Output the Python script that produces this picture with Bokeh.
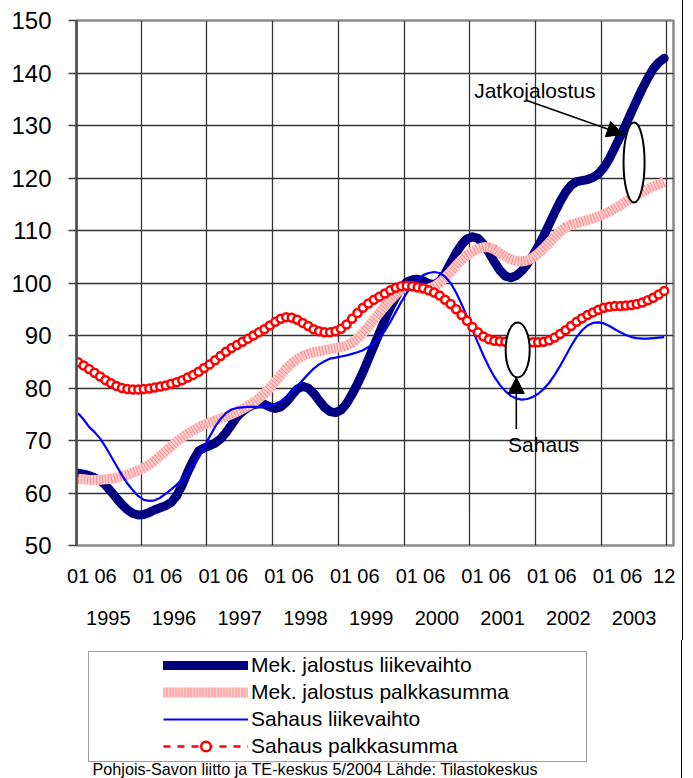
from bokeh.plotting import figure
from bokeh.layouts import column
from bokeh.models import (FixedTicker, LinearAxis, Legend, LegendItem, Arrow, NormalHead,
                          Label, Range1d, Grid, ColumnDataSource, InlineStyleSheet)
from bokeh.embed import file_html
from bokeh.resources import INLINE

# ---- data: monthly index values, 1995-01 ... 2003-12 ----
years = ["1995", "1996", "1997", "1998", "1999", "2000", "2001", "2002", "2003"]
month_labels = ["01", "06"]
last_label = "12"

mek_liikevaihto = [
    63.8, 63.6, 63.3, 62.9, 62.4, 61.5, 60.3, 59.0, 57.8, 56.8, 56.1, 55.8,
    55.9, 56.3, 56.8, 57.2, 57.6, 58.2, 59.5, 61.5, 64.0, 66.2, 68.0, 68.6,
    69.0, 69.5, 70.3, 71.5, 73.0, 74.5, 75.5, 76.3, 76.8, 77.0, 76.9, 76.4,
    76.1, 76.4, 77.3, 78.6, 79.8, 80.3, 80.0, 79.0, 77.6, 76.3, 75.5, 75.3,
    75.8, 77.0, 78.8, 80.8, 83.0, 85.5, 88.0, 90.5, 93.0, 95.3, 97.3, 99.0,
    100.2, 100.6, 100.7, 100.4, 99.9, 99.7, 100.3, 101.8, 103.8, 105.7, 107.3, 108.4,
    108.8, 108.5, 107.4, 105.8, 104.0, 102.4, 101.3, 101.0, 101.4, 102.3, 103.6, 105.2,
    107.0, 109.0, 111.2, 113.4, 115.5, 117.3, 118.6, 119.3, 119.5, 119.7, 120.1, 120.8,
    122.0, 123.7, 125.8, 128.0, 130.2, 132.5, 134.8, 137.0, 139.0, 140.8, 142.0, 142.8]

mek_palkkasumma = [
    62.7, 62.6, 62.5, 62.5, 62.5, 62.6, 62.7, 62.9, 63.2, 63.5, 63.9, 64.3,
    64.8, 65.4, 66.2, 67.1, 68.0, 68.9, 69.8, 70.6, 71.3, 71.9, 72.5, 73.0,
    73.4, 73.8, 74.2, 74.6, 75.0, 75.5, 76.0, 76.6, 77.2, 78.0, 78.9, 80.0,
    81.2, 82.5, 83.7, 84.7, 85.5, 86.1, 86.5, 86.8, 87.0, 87.2, 87.4, 87.6,
    87.8, 88.1, 88.6, 89.4, 90.5, 91.7, 93.0, 94.3, 95.6, 96.8, 97.9, 98.8,
    99.3, 99.3, 99.0, 98.8, 98.9, 99.3, 100.0, 101.0, 102.1, 103.3, 104.4, 105.3,
    106.0, 106.5, 106.8, 106.8, 106.4, 105.7, 105.0, 104.5, 104.2, 104.1, 104.3, 104.8,
    105.6, 106.6, 107.7, 108.8, 109.8, 110.6, 111.1, 111.4, 111.7, 112.0, 112.3, 112.7,
    113.1, 113.6, 114.2, 114.8, 115.5, 116.1, 116.7, 117.3, 117.9, 118.4, 118.8, 119.2]

sahaus_liikevaihto = [
    75.2, 74.0, 72.6, 71.6, 70.4, 68.8, 67.0, 65.2, 63.4, 61.8, 60.5, 59.4,
    58.7, 58.5, 58.6, 59.1, 59.9, 60.7, 61.6, 62.6, 63.8, 65.2, 66.9, 68.8,
    70.7, 72.6, 74.1, 75.2, 75.9, 76.2, 76.3, 76.4, 76.4, 76.4, 76.5, 76.7,
    77.0, 77.5, 78.3, 79.3, 80.4, 81.5, 82.6, 83.7, 84.5, 85.1, 85.6, 85.8,
    86.0, 86.2, 86.5, 86.8, 87.2, 87.8, 88.6, 89.5, 90.9, 92.6, 94.5, 96.4,
    98.1, 99.6, 100.7, 101.5, 101.9, 102.1, 101.9, 101.2, 100.0, 98.2, 96.0, 93.6,
    91.1, 88.6, 86.2, 84.0, 82.1, 80.6, 79.4, 78.5, 78.0, 77.8, 77.9, 78.3,
    78.9, 79.8, 81.0, 82.5, 84.2, 86.1, 88.0, 89.7, 91.0, 91.9, 92.4, 92.5,
    92.3, 91.8, 91.2, 90.6, 90.1, 89.7, 89.5, 89.4, 89.4, 89.5, 89.6, 89.7]

sahaus_palkkasumma = [
    84.9, 84.3, 83.6, 82.9, 82.2, 81.5, 80.9, 80.4, 80.0, 79.8, 79.7, 79.7,
    79.8, 79.9, 80.1, 80.3, 80.5, 80.8, 81.1, 81.5, 82.0, 82.5, 83.1, 83.8,
    84.5, 85.3, 86.1, 86.9, 87.6, 88.2, 88.8, 89.4, 90.0, 90.6, 91.2, 91.9,
    92.6, 93.2, 93.5, 93.4, 93.0, 92.4, 91.8, 91.2, 90.8, 90.6, 90.6, 90.8,
    91.3, 92.1, 93.2, 94.3, 95.3, 96.1, 96.8, 97.4, 98.0, 98.6, 99.1, 99.4,
    99.5, 99.4, 99.2, 99.0, 98.6, 98.2, 97.6, 96.8, 96.0, 95.0, 93.9, 92.8,
    91.6, 90.6, 89.8, 89.3, 89.0, 88.9, 88.8, 88.8, 88.7, 88.7, 88.7, 88.7,
    88.7, 88.8, 89.1, 89.6, 90.3, 91.0, 91.8, 92.6, 93.3, 93.9, 94.4, 94.9,
    95.3, 95.5, 95.6, 95.6, 95.7, 95.8, 96.0, 96.3, 96.7, 97.2, 97.8, 98.5]

series_names = ["Mek. jalostus liikevaihto", "Mek. jalostus palkkasumma",
                "Sahaus liikevaihto", "Sahaus palkkasumma"]
source_text = "Pohjois-Savon liitto ja TE-keskus 5/2004  Lähde: Tilastokeskus"

n_months = len(mek_liikevaihto)
months = list(range(n_months))
src = ColumnDataSource(dict(m=months, a=mek_liikevaihto, b=mek_palkkasumma,
                            c=sahaus_liikevaihto, d=sahaus_palkkasumma))

FONT = "Liberation Sans"
EDGE = InlineStyleSheet(css=":host { border-right: 1.5px solid #000; }")

STY_A = dict(line_color="#000080", line_width=9, line_cap="round", line_join="round")
STY_B1 = dict(line_color="#ffd0d0", line_width=10)
STY_B2 = dict(line_color="#ff3030", line_width=10, line_dash="1 2", line_alpha=0.45)
STY_C = dict(line_color="#0000ff", line_width=2.2)
STY_D1 = dict(line_color="#ff0000", line_width=2.5, line_dash="7 7")
STY_D2 = dict(size=8, marker="circle", line_color="#ff0000", line_width=2.5,
              fill_color="white")


def draw_series(fig):
    ra = fig.line("m", "a", source=src, **STY_A)
    rb1 = fig.line("m", "b", source=src, **STY_B1)
    rb2 = fig.line("m", "b", source=src, **STY_B2)
    rc = fig.line("m", "c", source=src, **STY_C)
    rd1 = fig.line("m", "d", source=src, **STY_D1)
    rd2 = fig.scatter("m", "d", source=src, **STY_D2)
    return ra, rb1, rb2, rc, rd1, rd2


# ================= main chart =================
p = figure(frame_width=596, frame_height=525,
           x_range=Range1d(-0.3, 108.7), y_range=Range1d(50, 150),
           x_axis_type=None, output_backend="svg", toolbar_location=None,
           min_border_left=76, min_border_top=20, min_border_right=10,
           min_border_bottom=95)
p.background_fill_color = "white"
p.border_fill_color = "white"
p.outline_line_color = "#8a8a8a"
p.outline_line_width = 2.5
p.stylesheets = [EDGE]

p.yaxis.ticker = FixedTicker(ticks=list(range(50, 151, 10)))
p.yaxis.major_label_text_font = FONT
p.yaxis.major_label_text_font_size = "24px"
p.yaxis.major_label_text_color = "black"
p.yaxis.major_tick_out = 8
p.yaxis.major_tick_in = 0
p.yaxis.major_tick_line_color = "#404040"
p.yaxis.major_tick_line_width = 1.3
p.yaxis.minor_tick_line_color = None
p.yaxis.axis_line_color = "#505050"
p.yaxis.axis_line_width = 2.5
p.yaxis.major_label_standoff = 17

p.ygrid.ticker = FixedTicker(ticks=list(range(60, 150, 10)))
p.ygrid.grid_line_color = "#333333"
p.ygrid.grid_line_width = 1.3

year_bounds = [12 * (k + 1) - 0.5 for k in range(len(years))]
p.add_layout(Grid(dimension=0, ticker=FixedTicker(ticks=year_bounds),
                  grid_line_color="#333333", grid_line_width=1.3))

tick_pos, tick_txt = [], {}
for k in range(len(years)):
    for lab in month_labels:
        pos = 12 * k + int(lab) - 1
        tick_pos.append(pos)
        tick_txt[pos] = lab
tick_pos.append(n_months - 1)
tick_txt[n_months - 1] = last_label

ax1 = LinearAxis(ticker=FixedTicker(ticks=tick_pos), major_label_overrides=tick_txt,
                 major_tick_line_color=None, minor_tick_line_color=None,
                 axis_line_color=None, major_label_standoff=17,
                 major_label_text_font=FONT, major_label_text_font_size="20px",
                 major_label_text_color="black")
p.add_layout(ax1, "below")

year_pos = [12 * k + 5.5 for k in range(len(years))]
ax2 = LinearAxis(ticker=FixedTicker(ticks=year_pos),
                 major_label_overrides={pos: y for pos, y in zip(year_pos, years)},
                 major_tick_line_color=None, minor_tick_line_color=None,
                 axis_line_color=None, major_label_standoff=19,
                 major_label_text_font=FONT, major_label_text_font_size="20px",
                 major_label_text_color="black")
p.add_layout(ax2, "below")

draw_series(p)

p.ellipse(x=[101.5], y=[122.95], width=[3.84], height=[15.24],
          fill_color="white", line_color="black", line_width=2)
p.ellipse(x=[80.25], y=[87.24], width=[4.39], height=[10.48],
          fill_color="white", line_color="black", line_width=2)

p.add_layout(Arrow(end=NormalHead(size=16, fill_color="black", line_color="black"),
                   x_start=81.8, y_start=134.8, x_end=99.5, y_end=128.3,
                   line_color="black", line_width=1.6))
p.add_layout(Arrow(end=NormalHead(size=16, fill_color="black", line_color="black"),
                   x_start=80.0, y_start=72.2, x_end=80.0, y_end=82.0,
                   line_color="black", line_width=1.6))
p.add_layout(Label(x=72.3, y=136.7, text="Jatkojalostus", text_baseline="middle",
                   text_font=FONT, text_font_size="21px", text_color="black"))
p.add_layout(Label(x=78.5, y=69.33, text="Sahaus", text_baseline="middle",
                   text_font=FONT, text_font_size="21px", text_color="black"))

# ================= legend strip =================
# the same series on a range where they fall outside the view; they serve as legend keys
q = figure(width=682, height=138, x_range=Range1d(1000, 1682),
           y_range=Range1d(1000, 1138), x_axis_type=None, y_axis_type=None,
           output_backend="svg", toolbar_location=None, min_border=0)
q.outline_line_color = None
q.grid.visible = False
q.background_fill_color = "white"
q.border_fill_color = "white"
q.stylesheets = [EDGE]

qa, qb1, qb2, qc, qd1, qd2 = draw_series(q)

legend = Legend(items=[
    LegendItem(label=series_names[0], renderers=[qa]),
    LegendItem(label=series_names[1], renderers=[qb1, qb2]),
    LegendItem(label=series_names[2], renderers=[qc]),
    LegendItem(label=series_names[3], renderers=[qd1, qd2]),
], location=(12, 16), margin=0, spacing=3, glyph_width=85,
    glyph_height=24, label_height=24, label_standoff=3,
    label_text_font=FONT, label_text_font_size="21px", label_text_color="black",
    border_line_color="#404040", border_line_width=1.3,
    background_fill_color="white", background_fill_alpha=1)
try:
    legend.padding = dict(left=74, right=77, top=1, bottom=3)
except Exception:
    legend.padding = 2
q.add_layout(legend, "center")

q.add_layout(Label(x=16, y=10, x_units="screen", y_units="screen", text=source_text,
                   text_baseline="middle", text_font=FONT, text_font_size="16.2px",
                   text_color="black"))

layout = column(p, q, spacing=0)
open("out.html", "w").write(file_html(layout, INLINE))
